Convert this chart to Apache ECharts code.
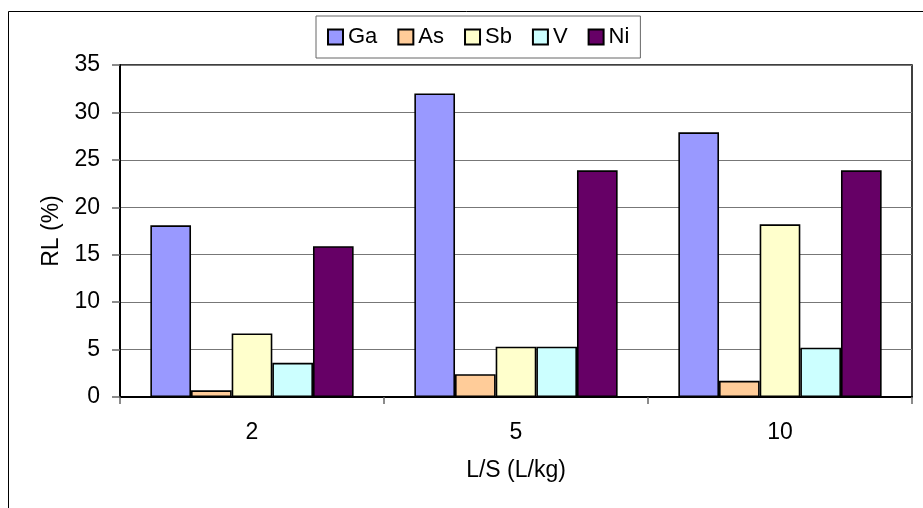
<!DOCTYPE html>
<html>
<head>
<meta charset="utf-8">
<title>RL vs L/S</title>
<script src="https://cdn.jsdelivr.net/npm/echarts@6/dist/echarts.min.js"></script>
<style>
  html, body { margin: 0; padding: 0; background: #fff; }
  #chart { width: 923px; height: 508px; }
</style>
</head>
<body>
<div id="chart"></div>
<script>
// L/S ratios (L/kg)
var categories = ['2', '5', '10'];

// Release level RL (%) per element
var gaValues = [18.1, 32.0, 27.9];
var asValues = [0.7, 2.4, 1.7];
var sbValues = [6.7, 5.3, 18.2];
var vValues  = [3.6, 5.3, 5.2];
var niValues = [15.9, 23.9, 23.9];

var seriesNames  = ['Ga', 'As', 'Sb', 'V', 'Ni'];
var seriesColors = ['#9999FF', '#FFCC99', '#FFFFCC', '#CCFFFF', '#660066'];
var seriesData   = [gaValues, asValues, sbValues, vValues, niValues];

var yTicks = { min: 0, max: 35, interval: 5 };

var FONT = "'Liberation Sans', Arial, sans-serif";

var chart = echarts.init(document.getElementById('chart'), null, { renderer: 'canvas' });

var series = seriesNames.map(function (name, i) {
  return {
    name: name,
    type: 'bar',
    data: seriesData[i],
    barGap: '0%',
    barCategoryGap: '23%',
    itemStyle: {
      color: seriesColors[i],
      borderColor: '#000',
      borderWidth: 1.6
    },
    emphasis: { disabled: true }
  };
});

chart.setOption({
  animation: false,
  backgroundColor: '#fff',
  textStyle: { fontFamily: FONT, color: '#000' },
  graphic: [{
    // outer chart frame
    type: 'rect',
    z: -10,
    shape: { x: 8.5, y: 11.5, width: 1000, height: 1000 },
    style: { fill: 'none', stroke: '#000', lineWidth: 1 }
  }],
  legend: {
    left: 316,
    top: 16,
    padding: [10, 11],
    itemGap: 20,
    itemWidth: 15,
    itemHeight: 15,
    borderColor: '#666',
    borderWidth: 1,
    backgroundColor: '#fff',
    icon: 'rect',
    textStyle: { fontSize: 22, fontFamily: FONT, color: '#000' },
    data: seriesNames
  },
  grid: {
    left: 120,
    top: 65,
    right: 11,
    bottom: 111,
    show: true,
    borderColor: '#000',
    borderWidth: 1.5,
    backgroundColor: 'transparent'
  },
  xAxis: {
    type: 'category',
    data: categories,
    name: 'L/S (L/kg)',
    nameLocation: 'middle',
    nameGap: 62,
    nameTextStyle: { fontSize: 23, fontFamily: FONT, color: '#000' },
    axisLine: { lineStyle: { color: '#000', width: 2 } },
    axisTick: { show: true, length: 7, lineStyle: { color: '#666', width: 1.5 } },
    axisLabel: { fontSize: 23, fontFamily: FONT, color: '#000', margin: 24 },
    splitLine: { show: false }
  },
  yAxis: {
    type: 'value',
    min: yTicks.min,
    max: yTicks.max,
    interval: yTicks.interval,
    name: 'RL (%)',
    nameLocation: 'middle',
    nameGap: 56,
    nameTextStyle: { fontSize: 23, fontFamily: FONT, color: '#000' },
    axisLine: { show: true, lineStyle: { color: '#000', width: 2 } },
    axisTick: { show: true, length: 8, lineStyle: { color: '#666', width: 1.5 } },
    axisLabel: { fontSize: 23, fontFamily: FONT, color: '#000', margin: 20 },
    splitLine: { show: true, lineStyle: { color: '#777', width: 1.2 } }
  },
  series: series
});
</script>
</body>
</html>
